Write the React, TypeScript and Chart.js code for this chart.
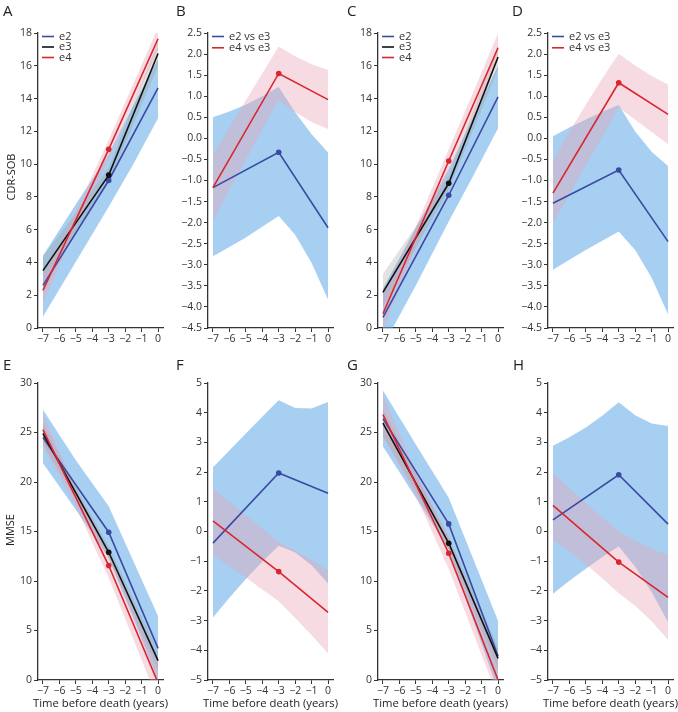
import React, { useEffect, useRef } from 'react';
import { Chart, registerables } from 'chart.js';
Chart.register(...registerables);

// ---------- shared x values & tick labels ----------
const LINE_X = [-7, -3, 0];
const BAND_X_LIN = [-7, -5, -3, -1.5, 0];
const BAND_X_DIFF = [-7, -6, -5, -4, -3, -2, -1, 0];
const X_TICKS = [-7, -6, -5, -4, -3, -2, -1, 0];
const CDR_TICKS = [0, 2, 4, 6, 8, 10, 12, 14, 16, 18];
const CDR_DIFF_TICKS = [-4.5, -4, -3.5, -3, -2.5, -2, -1.5, -1, -0.5, 0, 0.5, 1, 1.5, 2, 2.5];
const MMSE_TICKS = [0, 5, 10, 15, 20, 25, 30];
const MMSE_DIFF_TICKS = [-5, -4, -3, -2, -1, 0, 1, 2, 3, 4, 5];

// ---------- Panel A (CDR-SOB) ----------
const aE2 = [2.6, 9.0, 14.65];
const aE3 = [3.5, 9.33, 16.75];
const aE4 = [2.3, 10.9, 17.65];
const aE2Lo = [0.7, 4.05, 7.4, 10.0, 12.8];
const aE2Hi = [4.4, 7.55, 10.6, 13.6, 16.4];
const aE3Lo = [2.8, 5.8, 8.9, 12.4, 16.0];
const aE3Hi = [4.4, 7.0, 9.8, 13.7, 17.5];
const aE4Lo = [1.5, 6.1, 10.3, 13.7, 16.95];
const aE4Hi = [3.1, 7.1, 11.5, 14.9, 18.35];

// ---------- Panel B (CDR-SOB differences) ----------
const bE2 = [-1.17, -0.33, -2.12];
const bE4 = [-1.17, 1.54, 0.92];
const bE2Lo = [-2.8, -2.58, -2.35, -2.1, -1.84, -2.29, -2.96, -3.83];
const bE2Hi = [0.5, 0.64, 0.8, 1.0, 1.22, 0.62, 0.1, -0.34];
const bE4Lo = [-1.95, -1.22, -0.5, 0.21, 0.9, 0.62, 0.39, 0.22];
const bE4Hi = [-0.4, 0.25, 0.9, 1.54, 2.18, 1.95, 1.76, 1.62];

// ---------- Panel C (CDR-SOB) ----------
const cE2 = [0.65, 8.1, 14.1];
const cE3 = [2.17, 8.83, 16.54];
const cE4 = [0.87, 10.19, 17.1];
const cE2Lo = [-1.1, 2.6, 6.5, 9.3, 12.2];
const cE2Hi = [2.4, 6.1, 9.7, 12.9, 16.0];
const cE3Lo = [1.3, 4.9, 8.4, 12.1, 15.8];
const cE3Hi = [3.3, 6.2, 9.3, 13.3, 17.3];
const cE4Lo = [-0.1, 4.9, 9.5, 12.9, 16.3];
const cE4Hi = [1.9, 6.2, 10.9, 14.4, 18.0];

// ---------- Panel D (CDR-SOB differences) ----------
const dE2 = [-1.54, -0.75, -2.45];
const dE4 = [-1.3, 1.32, 0.57];
const dE2Lo = [-3.12, -2.88, -2.65, -2.43, -2.21, -2.65, -3.31, -4.18];
const dE2Hi = [0.05, 0.26, 0.45, 0.63, 0.79, 0.16, -0.32, -0.66];
const dE4Lo = [-2.01, -1.33, -0.65, 0.04, 0.73, 0.44, 0.15, -0.14];
const dE4Hi = [-0.52, 0.15, 0.8, 1.42, 2.01, 1.73, 1.48, 1.28];

// ---------- Panel E (MMSE) ----------
const eE2 = [24.5, 14.93, 3.2];
const eE3 = [24.9, 12.9, 1.95];
const eE4 = [25.3, 11.56, -0.3];
const eE2Lo = [21.9, 17.2, 12.3, 6.2, -0.1];
const eE2Hi = [27.3, 22.2, 17.55, 12.0, 6.46];
const eE3Lo = [23.8, 18.3, 12.3, 6.6, 0.95];
const eE3Hi = [26.0, 19.5, 13.5, 8.2, 2.95];
const eE4Lo = [23.7, 17.5, 10.3, 4.1, -2.1];
const eE4Hi = [26.9, 19.3, 12.9, 7.1, 1.5];

// ---------- Panel F (MMSE differences) ----------
const fE2 = [-0.39, 1.97, 1.29];
const fE4 = [0.36, -1.35, -2.72];
const fE2Lo = [-2.9, -2.23, -1.6, -1.02, -0.48, -0.71, -1.14, -1.75];
const fE2Hi = [2.16, 2.73, 3.3, 3.86, 4.42, 4.16, 4.14, 4.36];
const fE4Lo = [-0.79, -1.17, -1.55, -1.95, -2.35, -2.91, -3.49, -4.1];
const fE4Hi = [1.45, 1.0, 0.55, 0.1, -0.35, -0.64, -0.96, -1.3];

// ---------- Panel G (MMSE) ----------
const gE2 = [26.4, 15.77, 2.43];
const gE3 = [25.95, 13.82, 2.19];
const gE4 = [26.8, 12.8, 0.0];
const gE2Lo = [23.6, 18.4, 13.2, 6.0, -1.1];
const gE2Hi = [29.25, 23.8, 18.4, 12.2, 5.97];
const gE3Lo = [24.55, 19.1, 13.1, 7.1, 1.1];
const gE3Hi = [27.35, 20.7, 14.5, 8.9, 3.3];
const gE4Lo = [24.8, 18.6, 11.2, 4.7, -1.8];
const gE4Hi = [28.8, 21.0, 14.4, 8.1, 1.8];

// ---------- Panel H (MMSE differences) ----------
const hE2 = [0.39, 1.91, 0.25];
const hE4 = [0.88, -1.03, -2.22];
const hE2Lo = [-2.1, -1.66, -1.25, -0.86, -0.5, -1.19, -2.04, -3.05];
const hE2Hi = [2.89, 3.17, 3.5, 3.9, 4.35, 3.91, 3.64, 3.55];
const hE4Lo = [-0.28, -0.67, -1.1, -1.57, -2.08, -2.5, -3.02, -3.65];
const hE4Hi = [1.97, 1.45, 0.95, 0.47, 0.02, -0.31, -0.58, -0.79];

// ---------- styles ----------
const BLUE = '#3a4aa3';
const RED = '#d9262e';
const BLACK = '#111111';
const BLUE_FILL = 'rgba(95,168,232,0.55)';
const PINK_FILL = 'rgba(235,160,180,0.38)';
const GRAY_FILL = 'rgba(150,150,150,0.28)';
const AXIS = '#333333';
const FONT = "'Open Sans', sans-serif";

const pts = (xs: number[], ys: number[]) => xs.map((x, i) => ({ x, y: ys[i] }));

const lineDs = (ys: number[], color: string) => ({
  data: pts(LINE_X, ys),
  borderColor: color,
  backgroundColor: color,
  borderWidth: 1.6,
  pointRadius: [0, 2.8, 0],
  pointHoverRadius: 0,
  pointBorderWidth: 0,
  pointBackgroundColor: color,
  fill: false,
  tension: 0,
});
const bandLo = (xs: number[], ys: number[]) => ({
  data: pts(xs, ys),
  borderColor: 'rgba(0,0,0,0)',
  borderWidth: 0,
  pointRadius: 0,
  fill: false,
  tension: 0,
});
const bandHi = (xs: number[], ys: number[], color: string) => ({
  data: pts(xs, ys),
  borderColor: 'rgba(0,0,0,0)',
  backgroundColor: color,
  borderWidth: 0,
  pointRadius: 0,
  fill: '-1',
  tension: 0,
});

const minus = (s: string) => s.replace('-', '\u2212');
const fmtInt = (v: number) => minus(String(Math.round(v)));
const fmtDec = (v: number) => minus((Math.round(v * 10) / 10).toFixed(1)).replace('\u22120.0', '0.0');

type PanelCfg = {
  letter: string; left: number; top: number; w: number; h: number;
  yw: number; padTop: number; padRight: number; xh: number;
  ymin: number; ymax: number; yTicks: number[]; dec: boolean;
  letterX: number; letterY: number;
  legend: [string, string][]; legendGap: number;
  yTitle?: string; yTitleX?: number; yTitleY?: number;
  xTitle?: string; xTitleY?: number;
  datasets: any[];
};

const three = (e2: number[], e3: number[], e4: number[], e2Lo: number[], e2Hi: number[], e3Lo: number[], e3Hi: number[], e4Lo: number[], e4Hi: number[]) => [
  lineDs(e4, RED), lineDs(e3, BLACK), lineDs(e2, BLUE),
  bandLo(BAND_X_LIN, e4Lo), bandHi(BAND_X_LIN, e4Hi, PINK_FILL),
  bandLo(BAND_X_LIN, e3Lo), bandHi(BAND_X_LIN, e3Hi, GRAY_FILL),
  bandLo(BAND_X_LIN, e2Lo), bandHi(BAND_X_LIN, e2Hi, BLUE_FILL),
];
const two = (e2: number[], e4: number[], e2Lo: number[], e2Hi: number[], e4Lo: number[], e4Hi: number[]) => [
  lineDs(e4, RED), lineDs(e2, BLUE),
  bandLo(BAND_X_DIFF, e4Lo), bandHi(BAND_X_DIFF, e4Hi, PINK_FILL),
  bandLo(BAND_X_DIFF, e2Lo), bandHi(BAND_X_DIFF, e2Hi, BLUE_FILL),
];

const LEG3: [string, string][] = [['e2', BLUE], ['e3', BLACK], ['e4', RED]];
const LEG2: [string, string][] = [['e2 vs e3', BLUE], ['e4 vs e3', RED]];
const XT = 'Time before death (years)';

const PANELS: PanelCfg[] = [
  { letter: 'A', left: 0, top: 0, w: 170, h: 350, yw: 38, padTop: 33, padRight: 7, xh: 22, ymin: 0, ymax: 18, yTicks: CDR_TICKS, dec: false, letterX: 3, letterY: 16, legend: LEG3, legendGap: 10.5, yTitle: 'CDR-SOB', yTitleX: 12, yTitleY: 177, datasets: three(aE2, aE3, aE4, aE2Lo, aE2Hi, aE3Lo, aE3Hi, aE4Lo, aE4Hi) },
  { letter: 'B', left: 170, top: 0, w: 170, h: 350, yw: 38, padTop: 33, padRight: 7, xh: 22, ymin: -4.5, ymax: 2.5, yTicks: CDR_DIFF_TICKS, dec: true, letterX: 6, letterY: 16, legend: LEG2, legendGap: 11.3, datasets: two(bE2, bE4, bE2Lo, bE2Hi, bE4Lo, bE4Hi) },
  { letter: 'C', left: 340, top: 0, w: 170, h: 350, yw: 38, padTop: 33, padRight: 7, xh: 22, ymin: 0, ymax: 18, yTicks: CDR_TICKS, dec: false, letterX: 7, letterY: 16, legend: LEG3, legendGap: 10.5, datasets: three(cE2, cE3, cE4, cE2Lo, cE2Hi, cE3Lo, cE3Hi, cE4Lo, cE4Hi) },
  { letter: 'D', left: 505, top: 0, w: 173, h: 350, yw: 43, padTop: 33, padRight: 5, xh: 22, ymin: -4.5, ymax: 2.5, yTicks: CDR_DIFF_TICKS, dec: true, letterX: 7, letterY: 16, legend: LEG2, legendGap: 11.3, datasets: two(dE2, dE4, dE2Lo, dE2Hi, dE4Lo, dE4Hi) },
  { letter: 'E', left: 0, top: 345, w: 170, h: 367, yw: 38, padTop: 38, padRight: 7, xh: 32, ymin: 0, ymax: 30, yTicks: MMSE_TICKS, dec: false, letterX: 3, letterY: 25, legend: [], legendGap: 0, yTitle: 'MMSE', yTitleX: 11, yTitleY: 185, xTitle: XT, xTitleY: 359, datasets: three(eE2, eE3, eE4, eE2Lo, eE2Hi, eE3Lo, eE3Hi, eE4Lo, eE4Hi) },
  { letter: 'F', left: 170, top: 345, w: 170, h: 367, yw: 38, padTop: 38, padRight: 7, xh: 32, ymin: -5, ymax: 5, yTicks: MMSE_DIFF_TICKS, dec: false, letterX: 6, letterY: 25, legend: [], legendGap: 0, xTitle: XT, xTitleY: 359, datasets: two(fE2, fE4, fE2Lo, fE2Hi, fE4Lo, fE4Hi) },
  { letter: 'G', left: 340, top: 345, w: 170, h: 367, yw: 38, padTop: 38, padRight: 7, xh: 32, ymin: 0, ymax: 30, yTicks: MMSE_TICKS, dec: false, letterX: 7, letterY: 25, legend: [], legendGap: 0, xTitle: XT, xTitleY: 359, datasets: three(gE2, gE3, gE4, gE2Lo, gE2Hi, gE3Lo, gE3Hi, gE4Lo, gE4Hi) },
  { letter: 'H', left: 505, top: 345, w: 173, h: 367, yw: 43, padTop: 38, padRight: 5, xh: 32, ymin: -5, ymax: 5, yTicks: MMSE_DIFF_TICKS, dec: false, letterX: 8, letterY: 25, legend: [], legendGap: 0, xTitle: XT, xTitleY: 359, datasets: two(hE2, hE4, hE2Lo, hE2Hi, hE4Lo, hE4Hi) },
];

const makeTextPlugin = (p: PanelCfg) => ({
  id: 'panelText',
  afterDraw(chart: any) {
    const { ctx, chartArea } = chart;
    ctx.save();
    ctx.fillStyle = '#222';
    ctx.textAlign = 'left';
    ctx.textBaseline = 'alphabetic';
    ctx.font = `15px ${FONT}`;
    ctx.fillText(p.letter, p.letterX, p.letterY);

    ctx.font = `11px ${FONT}`;
    ctx.textBaseline = 'middle';
    p.legend.forEach(([label, color], i) => {
      const y = chartArea.top + 3.5 + i * p.legendGap;
      ctx.strokeStyle = color;
      ctx.lineWidth = 1.6;
      ctx.beginPath();
      ctx.moveTo(chartArea.left + 4, y);
      ctx.lineTo(chartArea.left + 16, y);
      ctx.stroke();
      ctx.fillStyle = '#333';
      ctx.fillText(label, chartArea.left + 21, y);
    });

    if (p.yTitle) {
      ctx.save();
      ctx.translate(p.yTitleX!, p.yTitleY!);
      ctx.rotate(-Math.PI / 2);
      ctx.textAlign = 'center';
      ctx.textBaseline = 'middle';
      ctx.font = `11px ${FONT}`;
      ctx.fillStyle = '#222';
      ctx.fillText(p.yTitle, 0, 0);
      ctx.restore();
    }
    if (p.xTitle) {
      ctx.textAlign = 'center';
      ctx.textBaseline = 'middle';
      ctx.font = `11.3px ${FONT}`;
      ctx.fillStyle = '#222';
      ctx.fillText(p.xTitle, (chartArea.left + chartArea.right) / 2, p.xTitleY!);
    }
    ctx.restore();
  },
});

const axisCommon = {
  grid: { display: true, drawOnChartArea: false, drawTicks: true, tickLength: 4, color: AXIS, lineWidth: 1 },
  border: { display: true, color: AXIS, width: 1.3 },
};

function Panel({ p }: { p: PanelCfg }) {
  const ref = useRef<HTMLCanvasElement | null>(null);
  useEffect(() => {
    const chart = new Chart(ref.current as HTMLCanvasElement, {
      type: 'line',
      data: { datasets: p.datasets },
      options: {
        animation: false,
        responsive: false,
        maintainAspectRatio: false,
        devicePixelRatio: 1,
        events: [],
        layout: { padding: { top: p.padTop, right: p.padRight, bottom: 0, left: 0 } },
        plugins: { legend: { display: false }, tooltip: { enabled: false }, filler: { propagate: false } },
        scales: {
          x: {
            type: 'linear',
            min: -7.3,
            max: 0.3,
            ...axisCommon,
            afterBuildTicks: (s: any) => { s.ticks = X_TICKS.map((v) => ({ value: v })); },
            afterFit: (s: any) => { s.height = p.xh; },
            ticks: { autoSkip: false, maxRotation: 0, padding: 1, color: AXIS, font: { family: FONT, size: 10.5 }, callback: (v: any) => fmtInt(Number(v)) },
          },
          y: {
            type: 'linear',
            min: p.ymin,
            max: p.ymax,
            ...axisCommon,
            afterBuildTicks: (s: any) => { s.ticks = p.yTicks.map((v) => ({ value: v })); },
            afterFit: (s: any) => { s.width = p.yw; },
            ticks: { autoSkip: false, padding: 2, color: AXIS, font: { family: FONT, size: 10.5 }, callback: (v: any) => (p.dec ? fmtDec(Number(v)) : fmtInt(Number(v))) },
          },
        },
      } as any,
      plugins: [makeTextPlugin(p)],
    });
    return () => chart.destroy();
  }, []);
  return (
    <canvas
      ref={ref}
      width={p.w}
      height={p.h}
      style={{ position: 'absolute', left: p.left, top: p.top, width: p.w, height: p.h }}
    />
  );
}

export default function App() {
  return (
    <div style={{ position: 'absolute', left: 0, top: 0, width: 678, height: 712, background: '#ffffff', overflow: 'hidden' }}>
      {PANELS.map((p) => (
        <Panel key={p.letter} p={p} />
      ))}
    </div>
  );
}
